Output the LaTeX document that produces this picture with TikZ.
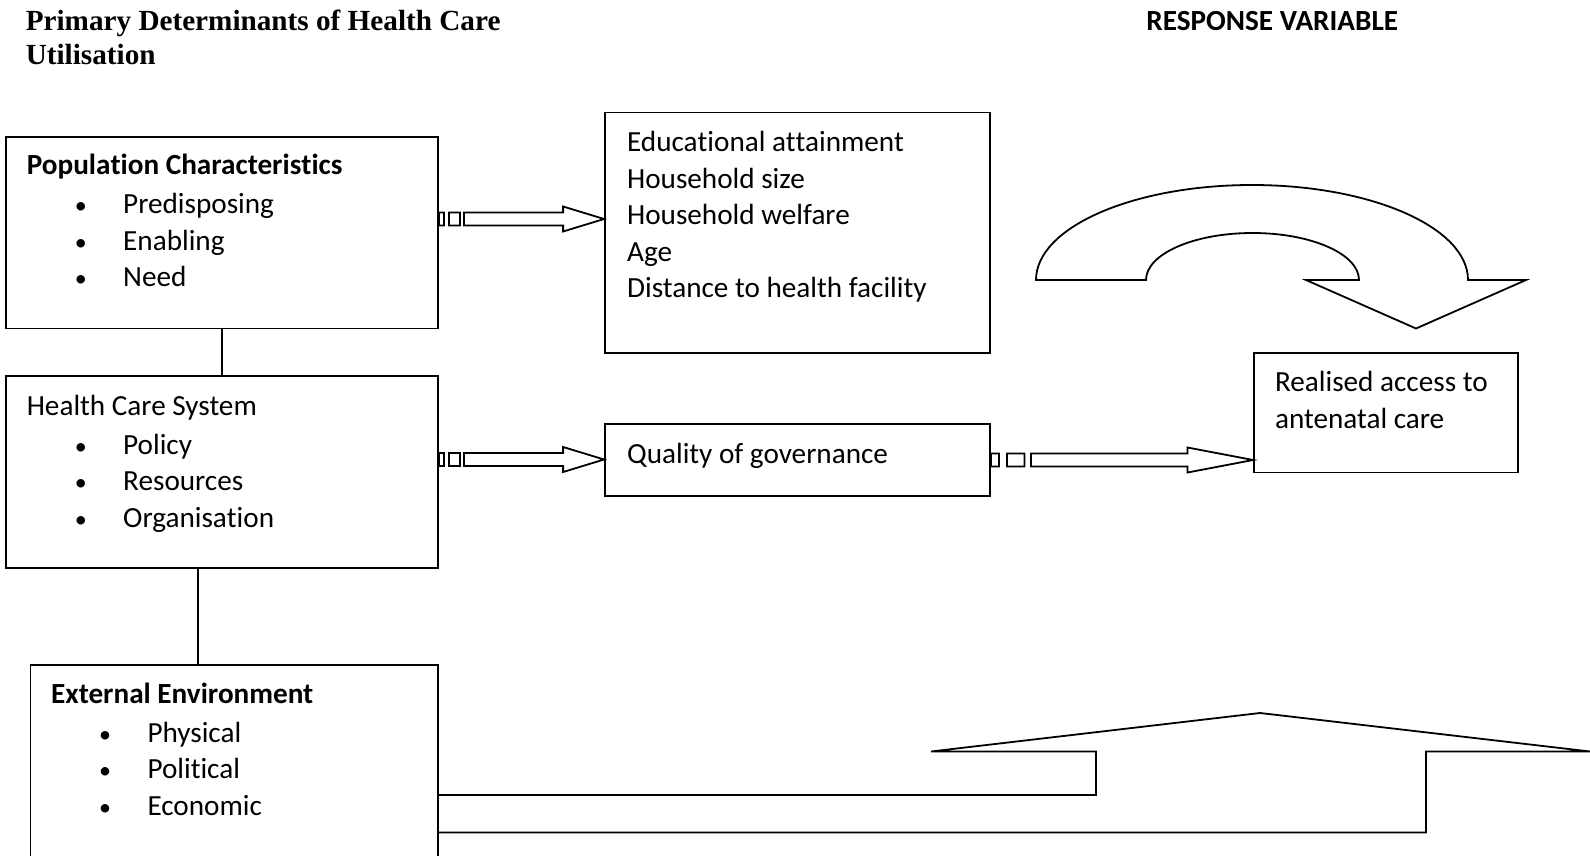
\documentclass[tikz,border=0pt]{standalone}
\usepackage{fontspec}
\setmainfont{Carlito}[Ligatures=NoCommon]
\newfontfamily\titlefont{Liberation Serif}
\usetikzlibrary{calc,positioning}

\newcommand{\bodyfont}{\fontsize{14.6pt}{18.3pt}\selectfont}
\newcommand{\bul}[1]{\hspace*{24pt}\makebox[24.2pt][l]{\large•}#1}
\newcommand{\nolig}{\kern0pt}
% striped block arrow: start, end, scale
\newcommand{\stripedarrow}[3]{%
	\draw[arrowline] ($(#1)+(0,-6.5)$) rectangle ++(5*#3,13)
		($(#1)+(10*#3,-6.5)$) rectangle ++(11*#3,13)
		($(#1)+(25*#3,-6.5)$) -- ($(#2)+(-41*#3,-6.5)$) -- ($(#2)+(-41*#3,-12.5)$)
		-- (#2) -- ($(#2)+(-41*#3,12.5)$) -- ($(#2)+(-41*#3,6.5)$)
		-- ($(#1)+(25*#3,6.5)$) -- cycle;
}

\begin{document}
\begin{tikzpicture}[
		x=0.5pt, y=-0.5pt,
		box/.style={
			draw,
			line width=0.9pt,
			inner sep=0pt,
		},
		txt/.style={
			anchor=north west,
			inner sep=0pt,
			align=left,
			font=\bodyfont,
		},
		arrowline/.style={
			line width=0.9pt,
			line join=miter,
		},
	]
		\useasboundingbox (0,0) rectangle (1590,856);

		% headings
		\node[txt, font=\titlefont\bfseries\fontsize{14.6pt}{16.8pt}\selectfont] (title) at (25.4,6.5)
			{\strut Primary Determinants of Health Care\\Utilisation};
		\node[txt, font=\bodyfont\bfseries] (resp) at (1146,4.8) {\strut RESPONSE VARIABLE};

		% boxes
		\node[box, minimum width=216pt, minimum height=95.75pt] (pc) at (222,232.75) {};
		\node[box, minimum width=216pt, minimum height=96pt] (hcs) at (222,472) {};
		\node[box, minimum width=203.8pt, minimum height=98.5pt] (ee) at (234.2,763.5) {};
		\node[box, minimum width=192.5pt, minimum height=120.25pt] (edu) at (797.5,232.75) {};
		\node[box, minimum width=192.5pt, minimum height=36pt] (qog) at (797.5,460) {};
		\node[box, minimum width=132pt, minimum height=59.75pt] (ra) at (1386,412.75) {};

		% box texts
		\node[txt] (pctext) at (26.4,148.4) {\strut\textbf{Popula\nolig tion Characteris\nolig tics}\\[1.3pt]
			\bul{Predisposing}\\ \bul{Enabling}\\ \bul{Need}};
		\node[txt] (hcstext) at (26.4,389) {\strut Health Care System\\[1.3pt]
			\bul{Policy}\\ \bul{Resources}\\ \bul{Organisa\nolig tion}};
		\node[txt] (eetext) at (50.7,677) {\strut\textbf{External Environment}\\[1.3pt]
			\bul{Physical}\\ \bul{Political}\\ \bul{Economic}};
		\node[txt] (edutext) at (626.7,125.4) {\strut Educa\nolig tional at\nolig tainment\\Household size\\
			Household welfare\\Age\\Distance to health facility};
		\node[txt] (qogtext) at (626.7,437.4) {\strut Quality of governance};
		\node[txt] (ratext) at (1274.6,365.4) {\strut Realised access to\\antenatal care};

		% links between the determinants
		\draw[line width=0.9pt] (pc.south) -- (hcs.north);
		\draw[line width=0.9pt] ([xshift=-12pt]hcs.south) -- ([xshift=-12pt]hcs.south |- ee.north);

		% striped arrows
		\coordinate (s1) at (pc.east |- 0,219);
		\coordinate (s2) at (hcs.east |- 0,459.5);
		\stripedarrow{s1}{edu.west |- s1}{1}
		\stripedarrow{s2}{qog.west |- s2}{1}
		\stripedarrow{qog.east}{ra.west |- qog.east}{1.6}

		% curved arrow above the response
		\draw[arrowline] (1036,280) arc[start angle=180, end angle=360, x radius=216, y radius=95]
			-- (1526,280) -- (1416,328.5) -- (1306,280) -- (1359,280)
			arc[start angle=0, end angle=-180, x radius=106.5, y radius=47] -- cycle;

		% bent arrow from the external environment
		\draw[arrowline] (ee.east |- 0,795) -- (1096,795) -- (1096,751.5) -- (931,751.5)
			-- (1260,713) -- (1590,751.5) -- (1426,751.5) -- (1426,832.5) -- (ee.east |- 0,832.5);
	\end{tikzpicture}
\end{document}
